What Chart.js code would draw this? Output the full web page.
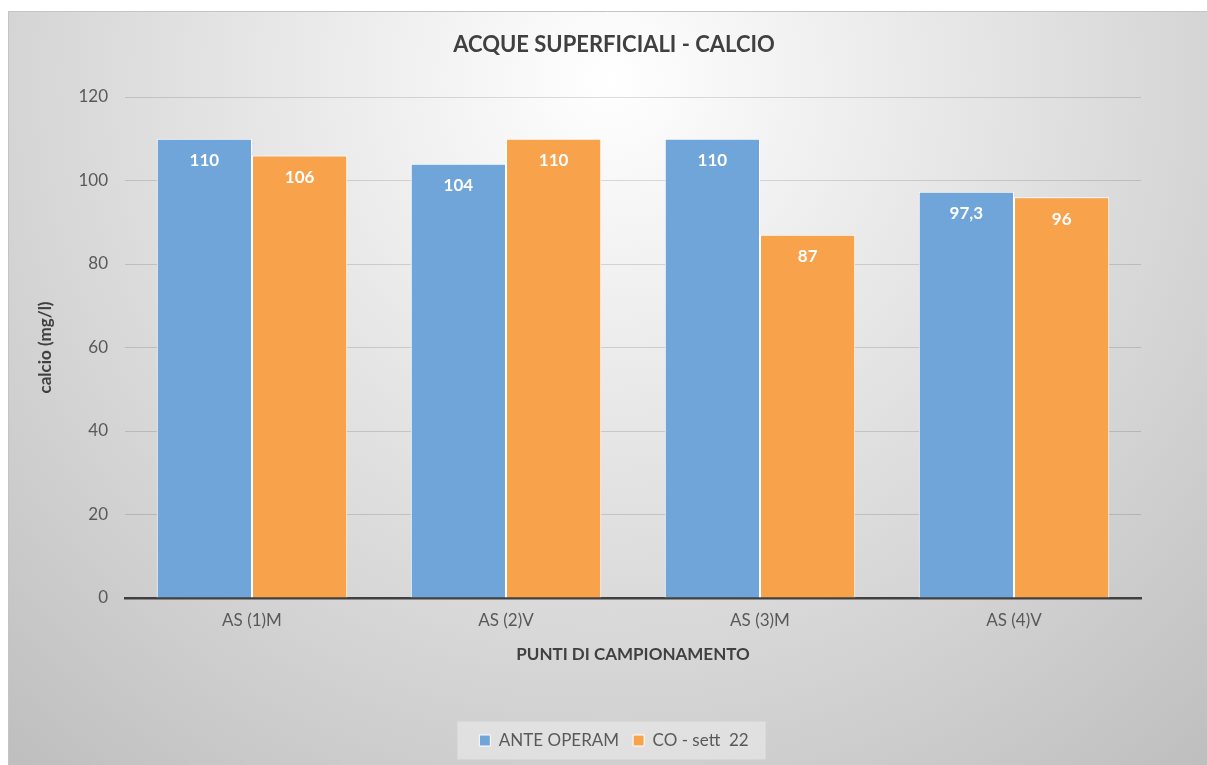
<!DOCTYPE html>
<html>
<head>
<meta charset="utf-8">
<script src="https://cdn.jsdelivr.net/npm/chart.js@4.4.1/dist/chart.umd.min.js"></script>
<style>
html,body{margin:0;padding:0;background:#fff;}
#wrap{width:1207px;height:765px;}
</style>
</head>
<body>
<div id="wrap"><canvas id="c" width="1207" height="765"></canvas></div>
<script>
const categories = ['AS (1)M', 'AS (2)V', 'AS (3)M', 'AS (4)V'];
const seriesNames = ['ANTE OPERAM', 'CO - sett  22'];
const anteOperam = [110, 104, 110, 97.3];
const coSett22 = [106, 110, 87, 96];
const yTicks = [0, 20, 40, 60, 80, 100, 120];
const chartTitle = 'ACQUE SUPERFICIALI - CALCIO';
const xTitle = 'PUNTI DI CAMPIONAMENTO';
const yTitle = 'calcio (mg/l)';

const FONT = 'Lato, "Open Sans", sans-serif';

const bgPlugin = {
  id: 'bg',
  beforeDraw(chart) {
    const ctx = chart.ctx;
    ctx.save();
    ctx.fillStyle = '#ffffff';
    ctx.fillRect(0, 0, chart.width, chart.height);
    const g = ctx.createRadialGradient(610, 80, 0, 610, 80, 900);
    g.addColorStop(0, '#ffffff');
    g.addColorStop(0.3, '#ececec');
    g.addColorStop(0.65, '#d6d6d6');
    g.addColorStop(1, '#bfbfbf');
    ctx.fillStyle = g;
    ctx.fillRect(8, 11, chart.width - 8, chart.height - 11);
    ctx.strokeStyle = '#c4c4c4';
    ctx.lineWidth = 1;
    ctx.beginPath();
    ctx.moveTo(8.5, chart.height);
    ctx.lineTo(8.5, 11.5);
    ctx.lineTo(chart.width, 11.5);
    ctx.stroke();
    // legend background
    const lg = chart.legend;
    if (lg && lg.legendHitBoxes && lg.legendHitBoxes.length) {
      const hb = lg.legendHitBoxes;
      let l = Infinity, r = -Infinity, t = Infinity, b = -Infinity;
      hb.forEach(h => { l = Math.min(l, h.left); r = Math.max(r, h.left + h.width); t = Math.min(t, h.top); b = Math.max(b, h.top + h.height); });
      const cy = (t + b) / 2;
      ctx.fillStyle = 'rgba(255,255,255,0.35)';
      ctx.fillRect(l - 22, cy - 19, (r - l) + 39, 38);
    }
    ctx.restore();
  }
};

const labelPlugin = {
  id: 'vlabels',
  afterDatasetsDraw(chart) {
    const ctx = chart.ctx;
    ctx.save();
    ctx.font = 'bold 17px ' + FONT;
    ctx.fillStyle = '#ffffff';
    ctx.textAlign = 'center';
    ctx.textBaseline = 'middle';
    chart.data.datasets.forEach((ds, di) => {
      const meta = chart.getDatasetMeta(di);
      meta.data.forEach((bar, i) => {
        const txt = String(ds.data[i]).replace('.', ',');
        ctx.fillText(txt, bar.x, bar.y + 22);
      });
    });
    ctx.restore();
  }
};

new Chart(document.getElementById('c'), {
  type: 'bar',
  data: {
    labels: categories,
    datasets: [
      { label: seriesNames[0], data: anteOperam, backgroundColor: '#6fa5d9', borderColor: '#ffffff', borderWidth: 1 },
      { label: seriesNames[1], data: coSett22, backgroundColor: '#f9a24c', borderColor: '#ffffff', borderWidth: 1 }
    ]
  },
  plugins: [bgPlugin, labelPlugin],
  options: {
    responsive: false,
    animation: false,
    devicePixelRatio: 1,
    layout: { padding: { left: 21, right: 0, top: 11, bottom: 6 } },
    datasets: { bar: { categoryPercentage: 0.75, barPercentage: 1 } },
    plugins: {
      title: {
        display: true, text: chartTitle, color: '#404040',
        font: { family: FONT, size: 22, weight: 'bold' },
        padding: { top: 21, bottom: 38.6 }
      },
      legend: {
        position: 'bottom',
        labels: {
          color: '#595959', font: { family: FONT, size: 17 },
          boxWidth: 11, boxHeight: 11, padding: 14
        }
      },
      tooltip: { enabled: false }
    },
    scales: {
      x: {
        grid: { display: false, drawTicks: false },
        border: { display: true, color: '#404040', width: 2.5 },
        ticks: { color: '#595959', font: { family: FONT, size: 17 }, padding: 12 },
        title: { display: true, text: xTitle, color: '#404040', font: { family: FONT, size: 17, weight: 'bold' }, padding: { top: 0, bottom: 53 } },
        afterFit(s) { s.height = 120; }
      },
      y: {
        min: 0, max: 120,
        afterBuildTicks(s) { s.ticks = yTicks.map(v => ({ value: v })); },
        grid: {
          color: (c) => c.tick && c.tick.value === 0 ? 'rgba(0,0,0,0)' : 'rgba(0,0,0,0.13)',
          drawTicks: false, lineWidth: 1
        },
        border: { display: false },
        ticks: { color: '#595959', font: { family: FONT, size: 17 }, padding: 17 },
        title: { display: true, text: yTitle, color: '#404040', font: { family: FONT, size: 17, weight: 'bold' }, padding: { top: 14, bottom: 0 } },
        afterFit(s) { s.width = 104; }
      },
      yR: {
        position: 'right', display: true,
        grid: { display: false, drawTicks: false },
        border: { display: false },
        ticks: { display: false },
        afterFit(s) { s.width = 66; }
      }
    }
  }
});
</script>
</body>
</html>
